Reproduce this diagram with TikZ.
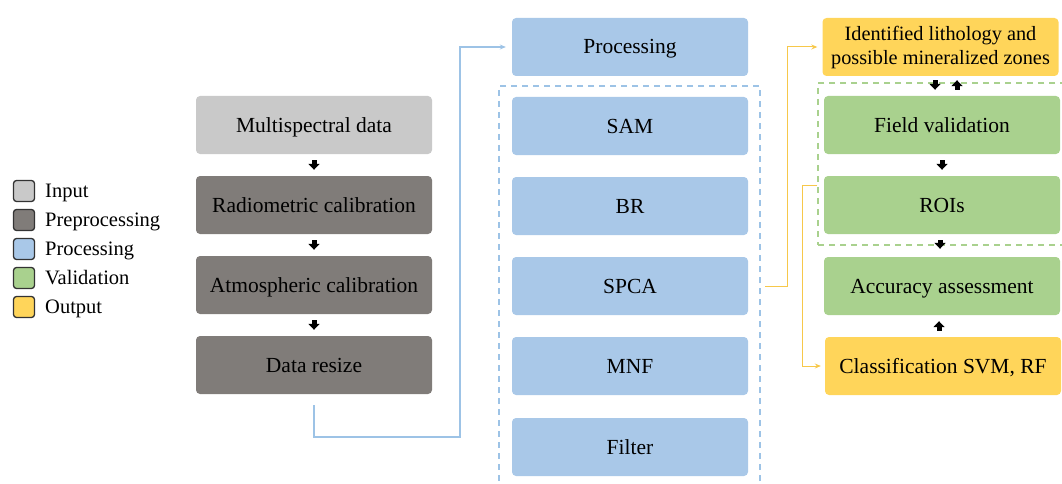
\documentclass[tikz,border=0pt]{standalone}
\usepackage{fontspec}
\setmainfont{Liberation Serif}
\usetikzlibrary{arrows.meta,calc}
\definecolor{cin}{HTML}{C9C9C9}
\definecolor{cpre}{HTML}{807C79}
\definecolor{cproc}{HTML}{A9C8E8}
\definecolor{cval}{HTML}{A9D18E}
\definecolor{cout}{HTML}{FFD55A}
\definecolor{lblue}{HTML}{9DC3E6}
\definecolor{lyel}{HTML}{F7C84A}
\definecolor{lgreen}{HTML}{A9D18E}
\tikzset{
  box/.style={rounded corners=4pt, minimum width=236pt, minimum height=58pt, inner sep=0pt, align=center, text height=16pt, text depth=2pt, font=\fontsize{21.5}{25}\selectfont},
  inbox/.style={box, fill=cin},
  prebox/.style={box, fill=cpre},
  procbox/.style={box, fill=cproc},
  valbox/.style={box, fill=cval},
  outbox/.style={box, fill=cout},
  leg/.style={draw=black!80, line width=1.3pt, rounded corners=3pt, minimum width=21pt, minimum height=21pt, inner sep=0pt},
  legtxt/.style={anchor=west, inner sep=0pt, text height=15pt, text depth=2pt, font=\fontsize{20.5}{22}\selectfont},
  blk/.style={line width=5pt, -{Triangle[width=11pt,length=6pt]}, shorten <=6pt, shorten >=6pt},
  bline/.style={draw=lblue, line width=1.1pt, -{Stealth[length=6pt,width=5pt]}},
  yline/.style={draw=lyel, line width=1pt, -{Stealth[length=6pt,width=5pt]}},
}
\begin{document}
\begin{tikzpicture}[x=1pt,y=-1pt]
\useasboundingbox (0,0) rectangle (1062,484);
% legend
\node[leg, fill=cin] (l1) at (24,191) {};
\node[leg, fill=cpre] (l2) at (24,220) {};
\node[leg, fill=cproc] (l3) at (24,249) {};
\node[leg, fill=cval] (l4) at (24,278) {};
\node[leg, fill=cout] (l5) at (24,307) {};
\node[legtxt] (t1) at (45,191) {Input};
\node[legtxt] (t2) at (45,220) {Preprocessing};
\node[legtxt] (t3) at (45,249) {Processing};
\node[legtxt] (t4) at (45,278) {Validation};
\node[legtxt] (t5) at (45,307) {Output};
% left column
\node[inbox] (ms) at (314,125) {Multispectral data};
\node[prebox] (rc) at (314,205) {Radiometric calibration};
\node[prebox] (ac) at (314,285) {Atmospheric calibration};
\node[prebox] (dr) at (314,365) {Data resize};
\draw[blk] (ms.south) -- (rc.north);
\draw[blk] (rc.south) -- (ac.north);
\draw[blk] (ac.south) -- (dr.north);
% middle column
\node[procbox] (proc) at (630,47) {Processing};
\node[draw=lblue, dashed, line width=1.1pt, dash pattern=on 6pt off 5pt, minimum width=261pt, minimum height=420pt, inner sep=0pt] (bgrp) at (629.5,296) {};
\node[procbox] (sam) at (630,126) {SAM};
\node[procbox] (br) at (630,206) {BR};
\node[procbox] (spca) at (630,286) {SPCA};
\node[procbox] (mnf) at (630,366) {MNF};
\node[procbox] (fil) at (630,447) {Filter};
\coordinate (c1) at (460,437);
\draw[bline, shorten <=11pt, shorten >=6pt] (dr.south) |- (c1) |- (proc.west);
% right column
\node[rounded corners=4pt, minimum width=236pt, minimum height=58pt, inner sep=0pt, fill=cout] (id) at (940.5,47) {};
\node[align=center, inner sep=0pt, font=\fontsize{20.3}{24}\selectfont] (idt) at (940.5,48) {Identified lithology and\\possible mineralized zones};
\node[draw=lgreen, dashed, line width=1.1pt, dash pattern=on 6pt off 5pt, minimum width=252pt, minimum height=162pt, inner sep=0pt] (gbox) at (944,164) {};
\node[valbox] (fv) at (942,125) {Field validation};
\node[valbox] (roi) at (942,205) {ROIs};
\node[valbox] (aa) at (942,286) {Accuracy assessment};
\node[outbox] (cls) at (943,366) {Classification SVM, RF};
\draw[blk, shorten <=4pt, shorten >=6pt] (id.south -| 935,0) -- (fv.north -| 935,0);
\draw[blk, shorten <=6pt, shorten >=4pt] (fv.north -| 957,0) -- (id.south -| 957,0);
\draw[blk] (fv.south) -- (roi.north);
\draw[blk, shorten <=6pt, shorten >=8pt] (roi.south -| 940,0) -- (aa.north -| 940,0);
\draw[blk] (cls.north -| 939,0) -- (aa.south -| 939,0);
\coordinate (c2) at (787,286);
\draw[yline, shorten <=17pt, shorten >=5pt] (spca.east) -- (c2) |- (id.west);
\coordinate (c3) at (802,185);
\draw[yline, shorten >=4pt] (c3 -| gbox.west) -- (c3) |- (cls.west);
\end{tikzpicture}
\end{document}
